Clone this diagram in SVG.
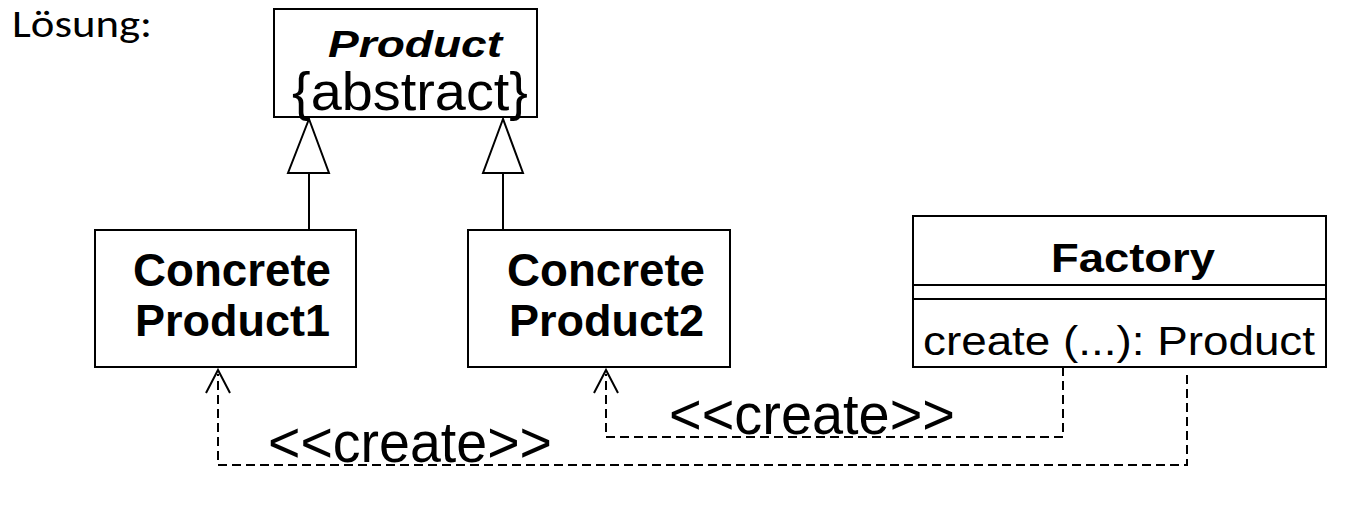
<svg xmlns="http://www.w3.org/2000/svg" width="1364" height="518" viewBox="0 0 1364 518">
<style>
.box{fill:#fff;stroke:#000;stroke-width:2}
.t{font-family:"Liberation Sans",Arial,sans-serif;fill:#000}
.b{font-weight:bold}
.line{fill:none;stroke:#000;stroke-width:2}
.dash{fill:none;stroke:#000;stroke-width:2;stroke-dasharray:9 5}
.tri{fill:#fff;stroke:#000;stroke-width:2}
</style>
<rect width="1364" height="518" fill="#fff"/>
<text x="12" y="37" font-family="Carlito,'Open Sans','Noto Sans',sans-serif" font-size="38" textLength="140" lengthAdjust="spacingAndGlyphs">Lösung:</text>
<g id="connectors">
<line class="line" x1="309" y1="173" x2="309" y2="230"/>
<polygon class="tri" points="309,119 288,173 329,173"/>
<line class="line" x1="503" y1="173" x2="503" y2="230"/>
<polygon class="tri" points="503,119 483,173 523,173"/>
<polyline class="dash" points="1063,367 1063,437 606,437 606,374"/>
<polyline class="line" points="594,393 606,370 618,393"/>
<polyline class="dash" points="1187,375 1187,465 218,465 218,374"/>
<polyline class="line" points="206,393 218,370 230,393"/>
<text class="t" x="669" y="434" font-size="58" textLength="286" lengthAdjust="spacingAndGlyphs">&lt;&lt;create&gt;&gt;</text>
<text class="t" x="268" y="462" font-size="57" textLength="284" lengthAdjust="spacingAndGlyphs">&lt;&lt;create&gt;&gt;</text>
</g>
<g id="product">
<rect class="box" x="274" y="9" width="263" height="108"/>
<text class="t b" x="328" y="57" font-size="37" font-style="italic" textLength="174" lengthAdjust="spacingAndGlyphs">Product</text>
<text class="t" x="292" y="110" font-size="54" textLength="236" lengthAdjust="spacingAndGlyphs">{abstract}</text>
</g>
<g id="concrete1">
<rect class="box" x="95" y="230" width="261" height="137"/>
<text class="t b" x="133" y="286" font-size="46" textLength="198" lengthAdjust="spacingAndGlyphs">Concrete</text>
<text class="t b" x="135" y="336" font-size="45" textLength="195" lengthAdjust="spacingAndGlyphs">Product1</text>
</g>
<g id="concrete2">
<rect class="box" x="468" y="230" width="262" height="137"/>
<text class="t b" x="507" y="286" font-size="46" textLength="198" lengthAdjust="spacingAndGlyphs">Concrete</text>
<text class="t b" x="509" y="336" font-size="45" textLength="195" lengthAdjust="spacingAndGlyphs">Product2</text>
</g>
<g id="factory">
<rect class="box" x="913" y="216" width="413" height="151"/>
<line class="line" x1="913" y1="285" x2="1326" y2="285"/>
<line class="line" x1="913" y1="299" x2="1326" y2="299"/>
<text class="t b" x="1051" y="272" font-size="41" textLength="164" lengthAdjust="spacingAndGlyphs">Factory</text>
<text class="t" x="923" y="355" font-size="41" textLength="392" lengthAdjust="spacingAndGlyphs">create (...): Product</text>
</g>
</svg>
